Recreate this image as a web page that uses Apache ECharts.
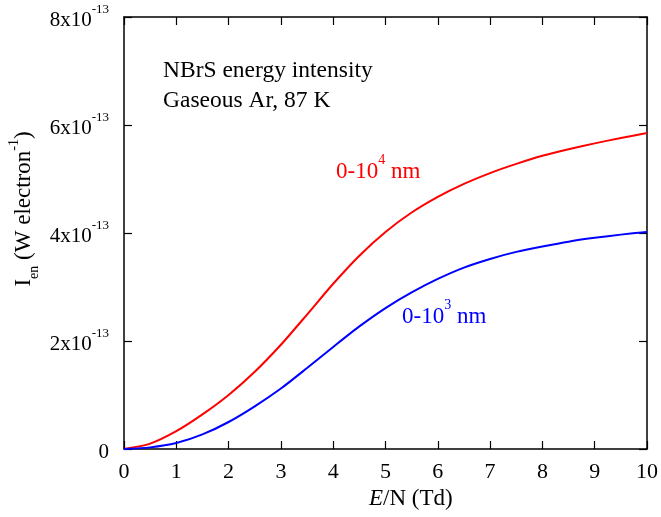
<!DOCTYPE html>
<html>
<head>
<meta charset="utf-8">
<script src="https://cdn.jsdelivr.net/npm/echarts@6/dist/echarts.min.js"></script>
<style>html,body{margin:0;padding:0;background:#fff}#c{width:661px;height:517px}</style>
</head>
<body>
<div id="c"></div>
<script>
// E/N in Td
var fieldTd = [0,0.5,1,1.5,2,2.5,3,3.5,4,4.5,5,5.5,6,6.5,7,7.5,8,8.5,9,9.5,10];
// intensity, units of 1e-13 W/electron
var red_0_1e4nm = [0,0.10,0.33,0.64,1.00,1.43,1.93,2.49,3.06,3.58,4.02,4.38,4.67,4.91,5.11,5.28,5.43,5.55,5.66,5.76,5.85];
var blue_0_1e3nm = [0,0.03,0.11,0.27,0.50,0.79,1.12,1.50,1.89,2.27,2.61,2.90,3.15,3.36,3.52,3.65,3.75,3.84,3.91,3.97,4.02];
var xTicks = [0,1,2,3,4,5,6,7,8,9,10];
var yTicks = [0,2,4,6,8];
var yExponent = -13;

var FONT = '"Liberation Serif","Times New Roman",serif';
function pairs(xs, ys){ return xs.map(function(x,i){return [x, ys[i]];}); }

var chart = echarts.init(document.getElementById('c'), null, {renderer:'canvas'});
var axisLine = {show:true, onZero:false, lineStyle:{color:'#000', width:1.5}};
var ticks = {show:true, inside:true, length:8, lineStyle:{color:'#000', width:1.2}};
var option = {
  animation:false,
  backgroundColor:'#fff',
  grid:{left:124, right:12, top:17, bottom:68, containLabel:false},
  xAxis:[{
    type:'value', min:xTicks[0], max:xTicks[xTicks.length-1], interval:1,
    axisLine:axisLine, axisTick:ticks, splitLine:{show:false},
    axisLabel:{color:'#000', fontFamily:FONT, fontSize:22, margin:12}
  },{
    type:'value', position:'top', min:xTicks[0], max:xTicks[xTicks.length-1], interval:1,
    axisLine:axisLine, axisTick:ticks, splitLine:{show:false}, axisLabel:{show:false}
  }],
  yAxis:[{
    type:'value', min:yTicks[0], max:yTicks[yTicks.length-1], interval:2,
    axisLine:axisLine, axisTick:ticks, splitLine:{show:false},
    axisLabel:{color:'#000', fontFamily:FONT, fontSize:21, margin:15,
      formatter:function(v){ return v===0 ? '{b|0}' : '{b|'+v+'x10}{s|'+yExponent+'}'; },
      rich:{
        b:{fontFamily:FONT, fontSize:21, color:'#000', lineHeight:28, verticalAlign:'bottom'},
        s:{fontFamily:FONT, fontSize:13, color:'#000', lineHeight:28, verticalAlign:'top'}
      }}
  },{
    type:'value', position:'right', min:yTicks[0], max:yTicks[yTicks.length-1], interval:2,
    axisLine:axisLine, axisTick:ticks, splitLine:{show:false}, axisLabel:{show:false}
  }],
  series:[{
    type:'line', data:pairs(fieldTd, red_0_1e4nm), smooth:0.25, symbol:'none',
    lineStyle:{color:'#ff0000', width:2}
  },{
    type:'line', data:pairs(fieldTd, blue_0_1e3nm), smooth:0.25, symbol:'none',
    lineStyle:{color:'#0000ff', width:2}
  }],
  graphic:[
    {type:'text', x:163, y:71, style:{text:'NBrS energy intensity', font:'23.5px '+FONT, fill:'#000', verticalAlign:'middle'}},
    {type:'text', x:163, y:101, style:{text:'Gaseous Ar, 87 K', font:'23.5px '+FONT, fill:'#000', verticalAlign:'middle'}},
    {type:'text', x:336, y:168, style:{
      text:'{b|0-10}{s|4}{b| nm}', verticalAlign:'middle',
      rich:{
        b:{fontFamily:FONT, fontSize:23, fill:'#ff0000', lineHeight:30, verticalAlign:'bottom'},
        s:{fontFamily:FONT, fontSize:14, fill:'#ff0000', lineHeight:30, verticalAlign:'top'}
      }}},
    {type:'text', x:402, y:313, style:{
      text:'{b|0-10}{s|3}{b| nm}', verticalAlign:'middle',
      rich:{
        b:{fontFamily:FONT, fontSize:23, fill:'#0000ff', lineHeight:30, verticalAlign:'bottom'},
        s:{fontFamily:FONT, fontSize:14, fill:'#0000ff', lineHeight:30, verticalAlign:'top'}
      }}},
    {type:'text', x:369, y:499, style:{
      text:'{i|E}{b|/N (Td)}', align:'left', verticalAlign:'middle',
      rich:{
        i:{fontFamily:FONT, fontSize:23, fontStyle:'italic', fill:'#000'},
        b:{fontFamily:FONT, fontSize:23, fill:'#000'}
      }}},
    {type:'text', x:24, y:209, rotation:Math.PI/2, style:{
      text:'{b|I}{sub|en}{b| (W electron}{sup|-1}{b|)}', align:'center', verticalAlign:'middle',
      rich:{
        b:{fontFamily:FONT, fontSize:23, fill:'#000', lineHeight:34, verticalAlign:'middle'},
        sub:{fontFamily:FONT, fontSize:14, fill:'#000', lineHeight:34, verticalAlign:'bottom'},
        sup:{fontFamily:FONT, fontSize:14, fill:'#000', lineHeight:34, verticalAlign:'top'}
      }}}
  ]
};
chart.setOption(option);
</script>
</body>
</html>
